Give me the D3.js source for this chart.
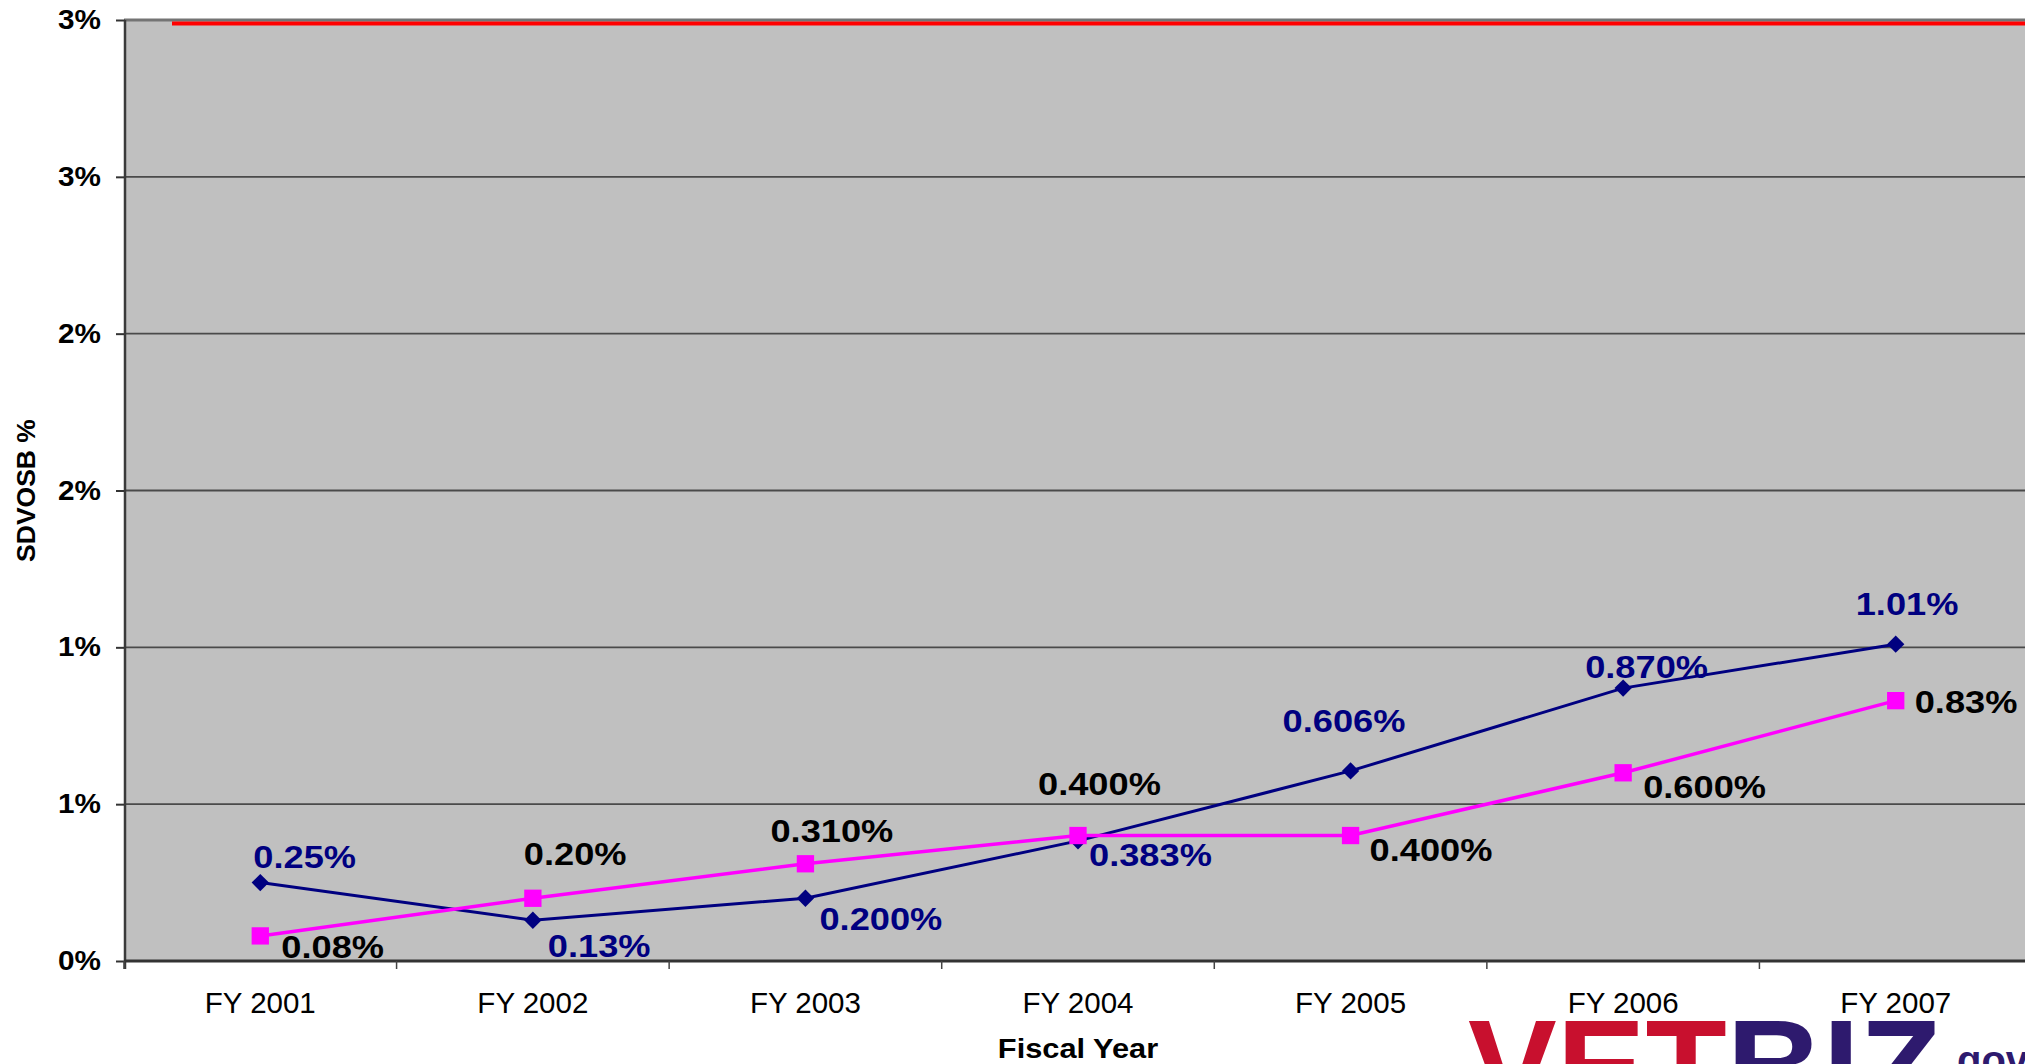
<!DOCTYPE html>
<html>
<head>
<meta charset="utf-8">
<script src="https://cdn.jsdelivr.net/npm/d3@7"></script>
<style>
  html, body { margin: 0; padding: 0; background: #ffffff; }
  svg { display: block; }
  text { font-family: "Liberation Sans", Arial, Helvetica, sans-serif; }
</style>
</head>
<body>
<svg id="chart" width="2025" height="1064"></svg>
<script>
// ---- data ----
const categories = ["FY 2001", "FY 2002", "FY 2003", "FY 2004", "FY 2005", "FY 2006", "FY 2007"];
const sdvosbValues = [0.25, 0.13, 0.20, 0.383, 0.606, 0.870, 1.01];
const sdvosbLabels = ["0.25%", "0.13%", "0.200%", "0.383%", "0.606%", "0.870%", "1.01%"];
const secondValues = [0.08, 0.20, 0.310, 0.400, 0.400, 0.600, 0.83];
const secondLabels = ["0.08%", "0.20%", "0.310%", "0.400%", "0.400%", "0.600%", "0.83%"];
const yTickValues = [0, 0.5, 1, 1.5, 2, 2.5, 3];
const yTickLabels = ["0%", "1%", "1%", "2%", "2%", "3%", "3%"];
const goalValue = 3;
const xTitle = "Fiscal Year";
const yTitle = "SDVOSB %";

// ---- layout (label nudges, px) ----
const sdvosbLabelOffsets = [[-7,-15],[15,37],[14,32],[11,25],[-68,-39],[-38,-10],[-40,-29]];
const secondLabelOffsets = [[21,22],[-9,-33],[-35,-22],[-40,-41],[19,25],[20,25],[19,12]];

const W = 2025, H = 1064;
const plot = { left: 124, right: 2032, top: 20, bottom: 961 };

const svg = d3.select("#chart");
svg.append("rect").attr("width", W).attr("height", H).attr("fill", "#ffffff");

const x = d3.scaleBand().domain(categories).range([plot.left, plot.right]).paddingInner(0).paddingOuter(0);
const y = d3.scaleLinear().domain([0, 3]).range([plot.bottom, plot.top]);
const cx = d => x(d) + x.bandwidth() / 2;

// plot background
svg.append("rect")
  .attr("x", plot.left).attr("y", plot.top)
  .attr("width", plot.right - plot.left).attr("height", plot.bottom - plot.top)
  .attr("fill", "#c0c0c0");

// gridlines
svg.append("g").selectAll("line")
  .data(yTickValues.filter(v => v > 0))
  .join("line")
  .attr("x1", plot.left).attr("x2", plot.right)
  .attr("y1", d => y(d)).attr("y2", d => y(d))
  .attr("stroke", d => d === 3 ? "#747474" : "#4a4a4a")
  .attr("stroke-width", d => d === 3 ? 3 : 1.8);

// goal line (red)
svg.append("line")
  .attr("x1", plot.left + 48).attr("x2", W)
  .attr("y1", y(goalValue) + 3.5).attr("y2", y(goalValue) + 3.5)
  .attr("stroke", "#ff0000").attr("stroke-width", 4);

// y axis
const yAxis = d3.axisLeft(y)
  .tickValues(yTickValues)
  .tickFormat((d, i) => yTickLabels[i])
  .tickSizeInner(9).tickSizeOuter(0).tickPadding(15);
const gy = svg.append("g").attr("transform", `translate(${plot.left + 1},0)`).call(yAxis);
gy.select(".domain").remove();
gy.selectAll(".tick line").attr("stroke", "#333").attr("stroke-width", 2);
gy.selectAll(".tick text")
  .attr("fill", "#000")
  .attr("font-size", 27).attr("font-weight", "bold")
  .each(function() {
    const t = d3.select(this);
    const xx = +t.attr("x");
    t.attr("x", 0).attr("transform", `translate(${xx},0) scale(1.1,1)`);
  });

// left axis line
svg.append("line")
  .attr("x1", plot.left + 1).attr("x2", plot.left + 1)
  .attr("y1", plot.top).attr("y2", plot.bottom + 8)
  .attr("stroke", "#3a3a3a").attr("stroke-width", 2.5);

// x axis
const xAxis = d3.axisBottom(x).tickSize(0).tickPadding(31);
const gx = svg.append("g").attr("transform", `translate(0,${plot.bottom})`).call(xAxis);
gx.select(".domain").remove();
gx.selectAll(".tick text")
  .attr("fill", "#000")
  .attr("font-size", 29.5);

// bottom axis line
svg.append("line")
  .attr("x1", plot.left).attr("x2", W)
  .attr("y1", plot.bottom).attr("y2", plot.bottom)
  .attr("stroke", "#333").attr("stroke-width", 3);

// category boundary ticks
svg.append("g").selectAll("line")
  .data(categories.map(c => x(c)).concat([x.range()[1]]))
  .join("line")
  .attr("x1", d => d).attr("x2", d => d)
  .attr("y1", plot.bottom).attr("y2", plot.bottom + 8)
  .attr("stroke", "#444").attr("stroke-width", 1.5);

// series lines
const line = d3.line().x((d, i) => cx(categories[i])).y(d => y(d));

svg.append("path").datum(sdvosbValues)
  .attr("d", line).attr("fill", "none")
  .attr("stroke", "#000080").attr("stroke-width", 3);
svg.append("g").selectAll("path")
  .data(sdvosbValues).join("path")
  .attr("d", d3.symbol(d3.symbolSquare, 150)())
  .attr("transform", (d, i) => `translate(${cx(categories[i])},${y(d)}) rotate(45)`)
  .attr("fill", "#000080");

svg.append("path").datum(secondValues)
  .attr("d", line).attr("fill", "none")
  .attr("stroke", "#ff00ff").attr("stroke-width", 3.5);
svg.append("g").selectAll("path")
  .data(secondValues).join("path")
  .attr("d", d3.symbol(d3.symbolSquare, 300)())
  .attr("transform", (d, i) => `translate(${cx(categories[i])},${y(d)})`)
  .attr("fill", "#ff00ff");

// data labels
function labels(values, texts, offsets, color) {
  svg.append("g").selectAll("text")
    .data(values).join("text")
    .attr("transform", (d, i) =>
      `translate(${cx(categories[i]) + offsets[i][0]},${y(d) + offsets[i][1]}) scale(1.15,1)`)
    .attr("font-size", 31.5).attr("font-weight", "bold")
    .attr("fill", color)
    .text((d, i) => texts[i]);
}
labels(sdvosbValues, sdvosbLabels, sdvosbLabelOffsets, "#000080");
labels(secondValues, secondLabels, secondLabelOffsets, "#000000");

// axis titles
svg.append("text")
  .attr("transform", `translate(${(plot.left + plot.right) / 2},1058) scale(1.12,1)`)
  .attr("text-anchor", "middle")
  .attr("font-size", 27.5).attr("font-weight", "bold").attr("fill", "#000")
  .text(xTitle);

svg.append("text")
  .attr("transform", `translate(35,${(plot.top + plot.bottom) / 2}) rotate(-90)`)
  .attr("text-anchor", "middle")
  .attr("font-size", 26.5).attr("font-weight", "bold").attr("fill", "#000")
  .text(yTitle);

// logo (partially visible at bottom right)
const logo = svg.append("text")
  .attr("x", 1468).attr("y", 1113)
  .attr("font-size", 133).attr("font-weight", "bold");
logo.append("tspan").attr("fill", "#c8102e").text("VET");
logo.append("tspan").attr("fill", "#2e1a6e").text("BIZ");
svg.append("text")
  .attr("x", 1957).attr("y", 1074)
  .attr("font-size", 40).attr("font-weight", "bold")
  .attr("fill", "#2e1a6e").text("gov");
</script>
</body>
</html>
